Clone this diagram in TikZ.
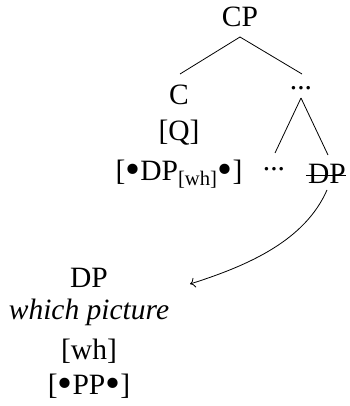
\documentclass[tikz,border=0pt]{standalone}
\usepackage{fontspec}
\setmainfont{Liberation Serif}
\usetikzlibrary{arrows.meta,calc}
\newcommand\bul{\raisebox{-3.5pt}{\scalebox{1.45}{\textbullet}}}
\begin{document}
\begin{tikzpicture}[x=1pt,y=-1pt,
  lab/.style={inner sep=0pt, anchor=base, font=\fontsize{29.5}{36}\selectfont},
  edge/.style={line width=0.8pt},
  mv/.style={line width=0.8pt, -{To[length=5pt,width=10pt]}}]
\useasboundingbox (0,0) rectangle (349,406);
\node[lab] (cp) at (240,27) {CP};
\node[lab] (c) at (179,105) {C};
\node[lab] (q) at (179,141) {[Q]};
\node[lab] (cf) at (179,180) {[\bul DP\textsubscript{[wh]}\bul]};
\node[lab] (dots) at (301,90) {...};
\node[lab] (dots2) at (274,170) {...};
\node[lab] (dp) at (327,183) {DP};
\draw[edge] ($(dp.base west)+(-2,-8)$) -- ($(dp.base east)+(0,-8)$);
\coordinate (cpb) at (240,37);
\draw[edge] (cpb) -- (180,74);
\draw[edge] (cpb) -- (302,74);
\coordinate (dtb) at (301,98);
\draw[edge] (dtb) -- (275,153);
\draw[edge] (dtb) -- (328,155);
\node[lab] (ldp) at (89,287) {DP};
\node[lab] (wp) at (89,319) {\itshape which picture};
\node[lab] (wh) at (89,359) {[wh]};
\node[lab] (pp) at (89,394) {[\bul PP\bul]};
\coordinate (arrs) at (327,190);
\coordinate (arre) at (190,284);
\draw[mv] (arrs) .. controls (305,240) and (250,265) .. (arre);
\end{tikzpicture}
\end{document}
